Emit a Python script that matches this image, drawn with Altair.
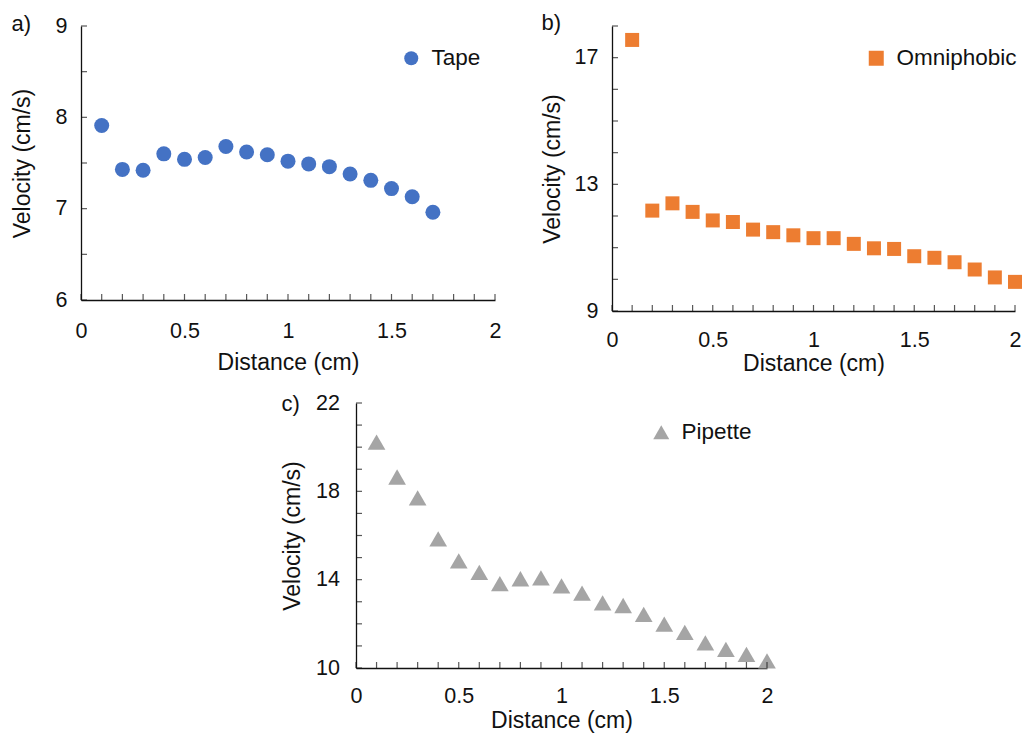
import altair as alt
import pandas as pd

# ---------------- data ----------------
dist_a = [0.1, 0.2, 0.3, 0.4, 0.5, 0.6, 0.7, 0.8, 0.9, 1.0, 1.1, 1.2, 1.3, 1.4, 1.5, 1.6, 1.7]
tape = [7.91, 7.43, 7.42, 7.60, 7.54, 7.56, 7.68, 7.62, 7.59, 7.52, 7.49, 7.46, 7.38, 7.31, 7.22, 7.13, 6.96]

dist_bc = [0.1, 0.2, 0.3, 0.4, 0.5, 0.6, 0.7, 0.8, 0.9, 1.0,
           1.1, 1.2, 1.3, 1.4, 1.5, 1.6, 1.7, 1.8, 1.9, 2.0]
omniphobic = [17.56, 12.17, 12.40, 12.13, 11.86, 11.81, 11.57, 11.49, 11.39, 11.30,
              11.30, 11.12, 10.98, 10.96, 10.73, 10.68, 10.54, 10.31, 10.06, 9.92]
pipette = [20.23, 18.65, 17.70, 15.85, 14.85, 14.33, 13.82, 14.04, 14.08, 13.72,
           13.39, 12.95, 12.83, 12.43, 11.99, 11.61, 11.14, 10.84, 10.62, 10.32]

x_labels = [0, 0.5, 1, 1.5, 2]
x_ticks = [0, 0.1, 0.2, 0.3, 0.4, 0.5, 0.6, 0.7, 0.8, 0.9, 1.0,
           1.1, 1.2, 1.3, 1.4, 1.5, 1.6, 1.7, 1.8, 1.9, 2.0]
ya_labels = [6, 7, 8, 9]
ya_ticks = [6, 6.5, 7, 7.5, 8, 8.5, 9]
yb_labels = [9, 13, 17]
yb_ticks = [9, 10, 11, 12, 13, 14, 15, 16, 17, 18]
yc_labels = [10, 14, 18, 22]
yc_ticks = [10, 11, 12, 13, 14, 15, 16, 17, 18, 19, 20, 21, 22]

FONT = "Liberation Sans"
INK = "#111111"


def panel(dist, vals, name, color, shape, size, lsize, ydom, ylabels, yticks,
          w, h, label, title_offset, ytpad, ylpad, xlpad, xtpad, lx, ly, llimit):
    df = pd.DataFrame({"d": dist, "v": vals, "s": [name] * len(dist)})
    pts = alt.Chart(df).mark_point(filled=True, opacity=1, size=size, shape=shape, strokeWidth=0).encode(
        x=alt.X("d:Q", scale=alt.Scale(domain=[0, 2], nice=False),
                axis=alt.Axis(values=x_labels, format="~g", ticks=False, tickSize=0, grid=False,
                              labelFlush=False,
                              title="Distance (cm)", labelPadding=xlpad, titlePadding=xtpad)),
        y=alt.Y("v:Q", scale=alt.Scale(domain=ydom, nice=False, zero=False),
                axis=alt.Axis(values=ylabels, format="~g", ticks=False, tickSize=0, grid=False,
                              labelFlush=False,
                              title="Velocity (cm/s)", labelPadding=ylpad, titlePadding=ytpad)),
        color=alt.Color("s:N", scale=alt.Scale(range=[color]),
                        legend=alt.Legend(title=None, orient="none", legendX=lx, legendY=ly,
                                          symbolType=shape, symbolSize=lsize, symbolStrokeWidth=0,
                                          labelFontSize=22.5, labelFont=FONT, labelColor=INK,
                                          labelOffset=9, padding=0, labelLimit=llimit)),
    )
    ytk = alt.Chart(pd.DataFrame({"v": yticks})).mark_tick(
        orient="horizontal", size=6, thickness=1.2, color=INK).encode(
        y=alt.Y("v:Q"), x=alt.value(3))
    xtk = alt.Chart(pd.DataFrame({"d": x_ticks})).mark_tick(
        orient="vertical", size=6, thickness=1.2, color=INK).encode(
        x=alt.X("d:Q"), y=alt.value(h - 3))
    return alt.layer(pts, ytk, xtk).properties(
        width=w, height=h,
        title=alt.TitleParams(label, anchor="start", frame="bounds", fontSize=22,
                              fontWeight="normal", font=FONT, color=INK, offset=title_offset),
    ).resolve_scale(color="independent")


a = panel(dist_a, tape, "Tape", "#4472C4", "circle", 225, 196, [6, 9], ya_labels, ya_ticks,
          414, 274, "a)", -21, 20.5, 14, 20, 10, 319, 21, 70)
b = panel(dist_bc, omniphobic, "Omniphobic", "#ED7D31", "square", 196, 225, [9, 18], yb_labels, yb_ticks,
          403, 285, "b)", -10, 9.5, 14, 18, 2, 253, 21, 135)
c = panel(dist_bc, pipette, "Pipette", "#A5A5A5", "triangle-up", 313, 256, [10, 22], yc_labels, yc_ticks,
          411, 265, "c)", -24, 11, 16.5, 17, 3, 294, 18, 85)

spacer = alt.Chart(pd.DataFrame({"z": [0]})).mark_point(opacity=0).encode(
    x=alt.value(1), y=alt.value(1)).properties(width=200, height=10)

row1 = alt.hconcat(a, b, spacing=40).resolve_scale(color="independent")
row2 = alt.hconcat(spacer, c, spacing=0).resolve_scale(color="independent")

chart = alt.vconcat(row1, row2, spacing=16).resolve_scale(color="independent").properties(
    padding={"left": 3, "top": 4, "right": 0, "bottom": 0},
    background="white",
).configure_view(stroke=None).configure_axis(
    labelFont=FONT, titleFont=FONT, labelFontSize=21.5, titleFontSize=23,
    labelColor=INK, titleColor=INK, titleFontWeight="normal",
    domainColor=INK, domainWidth=1.3,
)

chart.save("out.html", embed_options={"renderer": "svg", "actions": False})
